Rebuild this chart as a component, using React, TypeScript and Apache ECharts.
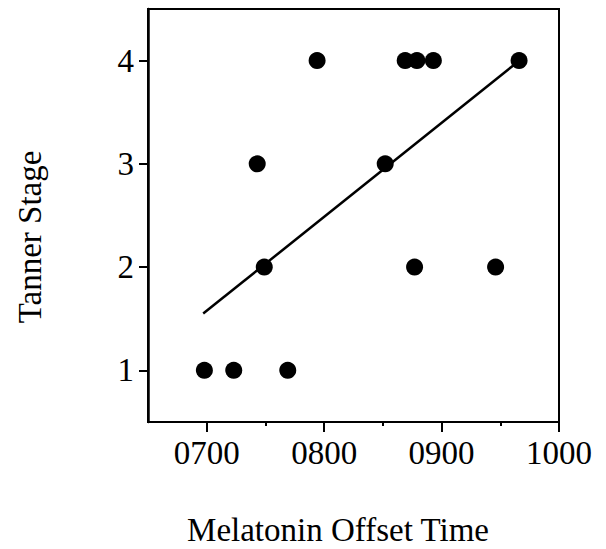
import React, { useEffect, useRef } from "react";
import * as echarts from "echarts";

// Melatonin offset time in decimal clock hours (7.5 = 07:30)
const offsetTimes = [6.98, 7.23, 7.69, 7.49, 8.77, 9.46, 7.43, 8.52, 7.94, 8.69, 8.79, 8.93, 9.66];
const tannerStages = [1, 1, 1, 2, 2, 2, 3, 3, 4, 4, 4, 4, 4];

// Regression line end points
const fitX = [6.97, 9.64];
const fitY = [1.55, 3.98];

const xTickValues = [7, 8, 9, 10];
const xTickLabels = ["0700", "0800", "0900", "1000"];
const xMinorTickValues = [7.5, 8.5, 9.5];
const yTickValues = [1, 2, 3, 4];
const yTickLabels = ["1", "2", "3", "4"];

const xTitle = "Melatonin Offset Time";
const yTitle = "Tanner Stage";

const FONT_FAMILY = "'Liberation Serif', 'Times New Roman', serif";

export default function App() {
  const ref = useRef<HTMLDivElement>(null);

  useEffect(() => {
    if (!ref.current) return;
    const chart = echarts.init(ref.current, null, { renderer: "svg" });
    const points = offsetTimes.map((x, i) => [x, tannerStages[i]]);
    const fit = fitX.map((x, i) => [x, fitY[i]]);

    chart.setOption({
      animation: false,
      backgroundColor: "#fff",
      grid: {
        left: 148,
        top: 9,
        right: 47,
        bottom: 127,
        show: true,
        borderColor: "#000",
        borderWidth: 2,
        backgroundColor: "transparent",
      },
      graphic: [
        {
          type: "text",
          x: 338,
          y: 530,
          style: {
            text: xTitle,
            fontFamily: FONT_FAMILY,
            fontSize: 33,
            fill: "#000",
            textAlign: "center",
            textVerticalAlign: "middle",
          },
        },
        {
          type: "text",
          x: 30,
          y: 237,
          rotation: Math.PI / 2,
          style: {
            text: yTitle,
            fontFamily: FONT_FAMILY,
            fontSize: 33,
            fill: "#000",
            textAlign: "center",
            textVerticalAlign: "middle",
          },
        },
      ],
      xAxis: [
        {
          type: "value",
          min: 6.5,
          max: 10,
          position: "bottom",
          axisLine: { show: true, lineStyle: { color: "#000", width: 2 } },
          axisTick: {
            show: true,
            customValues: xTickValues,
            length: 10,
            lineStyle: { color: "#000", width: 2 },
          },
          axisLabel: {
            show: true,
            customValues: xTickValues,
            margin: 14,
            fontFamily: FONT_FAMILY,
            fontSize: 33,
            color: "#000",
            formatter: (v: number) => {
              const i = xTickValues.findIndex((t) => Math.abs(t - v) < 1e-6);
              return i >= 0 ? xTickLabels[i] : "";
            },
          },
          splitLine: { show: false },
        },
        {
          type: "value",
          min: 6.5,
          max: 10,
          position: "bottom",
          axisLine: { show: false },
          axisTick: {
            show: true,
            customValues: xMinorTickValues,
            length: 4,
            lineStyle: { color: "#000", width: 2 },
          },
          axisLabel: { show: false },
          splitLine: { show: false },
        },
      ],
      yAxis: {
        type: "value",
        min: 0.5,
        max: 4.5,
        axisLine: { show: true, lineStyle: { color: "#000", width: 2.5 } },
        axisTick: {
          show: true,
          customValues: yTickValues,
          length: 9,
          lineStyle: { color: "#000", width: 2 },
        },
        axisLabel: {
          show: true,
          customValues: yTickValues,
          margin: 14,
          fontFamily: FONT_FAMILY,
          fontSize: 33,
          color: "#000",
          formatter: (v: number) => {
            const i = yTickValues.findIndex((t) => Math.abs(t - v) < 1e-6);
            return i >= 0 ? yTickLabels[i] : "";
          },
        },
        splitLine: { show: false },
      },
      series: [
        {
          type: "line",
          data: fit,
          xAxisIndex: 0,
          showSymbol: false,
          symbol: "none",
          lineStyle: { color: "#000", width: 2.5 },
          z: 2,
        },
        {
          type: "scatter",
          data: points,
          xAxisIndex: 0,
          symbol: "circle",
          symbolSize: 17,
          itemStyle: { color: "#000", opacity: 1 },
          z: 3,
        },
      ],
    });

    return () => chart.dispose();
  }, []);

  return (
    <div
      ref={ref}
      style={{ position: "fixed", left: 0, top: 0, width: 606, height: 549, background: "#fff" }}
    />
  );
}
